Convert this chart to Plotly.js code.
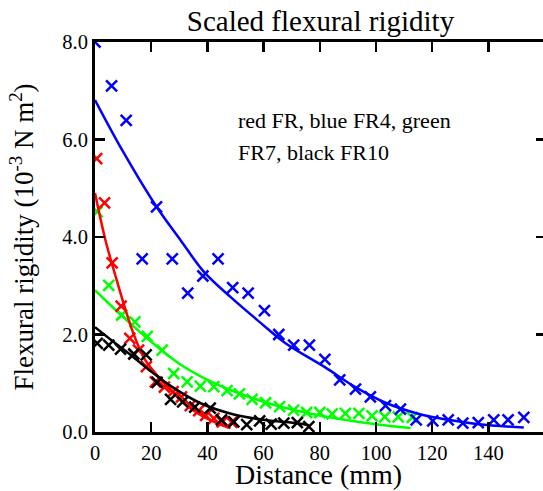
<!DOCTYPE html>
<html>
<head>
<meta charset="utf-8">
<script src="https://cdn.plot.ly/plotly-3.0.1.min.js"></script>
<style>
html,body{margin:0;padding:0;overflow:hidden;background:#fff;}
#chart{width:546px;height:491px;}
</style>
</head>
<body>
<div id="chart"></div>
<script>
// ---- data ----
const xTickVals = [0, 20, 40, 60, 80, 100, 120, 140];
const xTickText = ['0', '20', '40', '60', '80', '100', '120', '140'];
const yTickVals = [0, 2, 4, 6, 8];
const yTickText = ['0.0', '2.0', '4.0', '6.0', '8.0'];

// FR (red)
const redX = [0.6, 3.4, 6.1, 9.3, 12.4, 15.5, 18.3, 21.5, 24.7, 27.8, 30.8, 33.9, 36.9, 39.4, 42.3, 45.3, 48.7];
const redY = [5.61, 4.70, 3.47, 2.58, 1.92, 1.68, 1.34, 1.03, 0.92, 0.83, 0.72, 0.54, 0.44, 0.34, 0.28, 0.21, 0.20];
const redFitX = [0, 3.7, 7.3, 10.9, 13.8, 17.4, 20.4, 26.9, 31.6, 37.5, 43.5, 48.2];
const redFitY = [4.90, 3.94, 3.20, 2.50, 2.00, 1.52, 1.28, 0.86, 0.59, 0.35, 0.18, 0.08];

// FR4 (blue)
const blueX = [0, 5.9, 11.1, 16.8, 21.9, 27.5, 33.0, 38.4, 43.8, 49.0, 54.5, 60.3, 65.4, 70.7, 76.3, 81.8, 87.1, 92.7, 98.0, 103.4, 108.7, 114.3, 120.2, 125.7, 130.9, 136.4, 141.9, 147.0, 152.6];
const blueY = [8.0, 7.10, 6.39, 3.55, 4.62, 3.55, 2.85, 3.20, 3.55, 2.96, 2.85, 2.49, 2.00, 1.78, 1.78, 1.49, 1.07, 0.88, 0.72, 0.54, 0.47, 0.25, 0.23, 0.25, 0.18, 0.19, 0.25, 0.25, 0.30];
const blueFitX = [0, 10, 21.9, 30.4, 38.7, 48.8, 58.3, 67.8, 81.8, 92.7, 103.4, 114.7, 125.7, 136.6, 152.6];
const blueFitY = [6.81, 5.75, 4.62, 3.94, 3.29, 2.74, 2.27, 1.82, 1.33, 0.92, 0.60, 0.38, 0.25, 0.16, 0.09];

// FR7 (green)
const greenX = [0.8, 4.9, 9.5, 14.2, 18.6, 23.9, 28.0, 32.8, 37.5, 42.3, 47.0, 51.4, 55.9, 60.7, 65.7, 70.7, 75.3, 80.0, 84.4, 89.1, 93.9, 98.6, 103.1, 107.9, 112.9];
const greenY = [4.52, 3.01, 2.40, 2.26, 1.96, 1.68, 1.20, 1.03, 0.94, 0.93, 0.85, 0.78, 0.67, 0.60, 0.52, 0.45, 0.40, 0.40, 0.37, 0.38, 0.38, 0.33, 0.31, 0.31, 0.30];
const greenFitX = [0, 10, 20, 30, 40, 50, 60, 70, 80, 90, 100, 112.3];
const greenFitY = [2.91, 2.36, 1.85, 1.40, 1.07, 0.82, 0.62, 0.46, 0.34, 0.24, 0.16, 0.08];

// FR10 (black)
const blackX = [0.8, 4.9, 9.1, 13.8, 18.2, 22.1, 26.9, 31.2, 35.5, 41.0, 45.0, 49.4, 54.0, 58.6, 62.7, 67.2, 72.0, 76.1];
const blackY = [1.82, 1.78, 1.70, 1.60, 1.58, 1.02, 0.67, 0.62, 0.51, 0.49, 0.25, 0.21, 0.15, 0.23, 0.16, 0.18, 0.19, 0.11];
const blackFitX = [0, 7, 13.8, 20, 27.3, 37.6, 49.4, 61.3, 72, 76.1];
const blackFitY = [2.15, 1.83, 1.53, 1.24, 0.93, 0.59, 0.36, 0.24, 0.18, 0.14];

const FONT = 'Liberation Serif, Times New Roman, serif';

function pts(x, y, color) {
  return {x: x, y: y, type: 'scatter', mode: 'markers', showlegend: false, hoverinfo: 'skip',
    marker: {symbol: 'x-thin-open', size: 11, color: color, line: {color: color, width: 2.5}}};
}
function fit(x, y, color) {
  return {x: x, y: y, type: 'scatter', mode: 'lines', showlegend: false, hoverinfo: 'skip',
    line: {color: color, width: 2.5, shape: 'spline', smoothing: 1}};
}

const data = [
  fit(greenFitX, greenFitY, '#00ff00'), pts(greenX, greenY, '#00ff00'),
  fit(blueFitX, blueFitY, '#0000ff'), pts(blueX, blueY, '#0000ff'),
  fit(redFitX, redFitY, '#ff0000'), pts(redX, redY, '#ff0000'),
  fit(blackFitX, blackFitY, '#000000'), pts(blackX, blackY, '#000000')
];

const axisCommon = {
  showgrid: false, zeroline: false, showline: true, linewidth: 3, linecolor: '#000',
  mirror: 'ticks', ticks: 'inside', ticklen: 10, tickwidth: 2.5, tickcolor: '#000',
  tickfont: {family: FONT, size: 20.5, color: '#000'}
};

const layout = {
  width: 546, height: 491,
  margin: {l: 95, r: 0, t: 42, b: 59},
  paper_bgcolor: '#fff', plot_bgcolor: '#fff',
  font: {family: FONT, color: '#000'},
  title: {text: 'Scaled flexural rigidity', font: {family: FONT, size: 29, color: '#000'},
          xref: 'paper', x: 0.5, xanchor: 'center', yref: 'container', y: 0.978, yanchor: 'top'},
  xaxis: Object.assign({}, axisCommon, {
    range: [0, 160.5], tickmode: 'array', tickvals: xTickVals, ticktext: xTickText
  }),
  yaxis: Object.assign({}, axisCommon, {
    range: [0, 8], tickmode: 'array', tickvals: yTickVals, ticktext: yTickText,
    title: {text: 'Flexural rigidity (10<sup>-3</sup> N m<sup>2</sup>)', font: {family: FONT, size: 27, color: '#000'}, standoff: 21}
  }),
  annotations: [
    {text: 'Distance (mm)', xref: 'paper', yref: 'paper', x: (318 - 95) / 451, y: (432 - 474) / 390,
     xanchor: 'center', yanchor: 'middle', showarrow: false, font: {family: FONT, size: 28, color: '#000'}},
    {text: 'red FR, blue FR4, green', xref: 'paper', yref: 'paper', x: (236 - 95) / 451, y: (432 - 135) / 390,
     xanchor: 'left', yanchor: 'bottom', showarrow: false, font: {family: FONT, size: 22, color: '#000'}},
    {text: 'FR7, black FR10', xref: 'paper', yref: 'paper', x: (236 - 95) / 451, y: (432 - 167) / 390,
     xanchor: 'left', yanchor: 'bottom', showarrow: false, font: {family: FONT, size: 22, color: '#000'}}
  ]
};

Plotly.newPlot('chart', data, layout, {displayModeBar: false, staticPlot: true});
</script>
</body>
</html>
